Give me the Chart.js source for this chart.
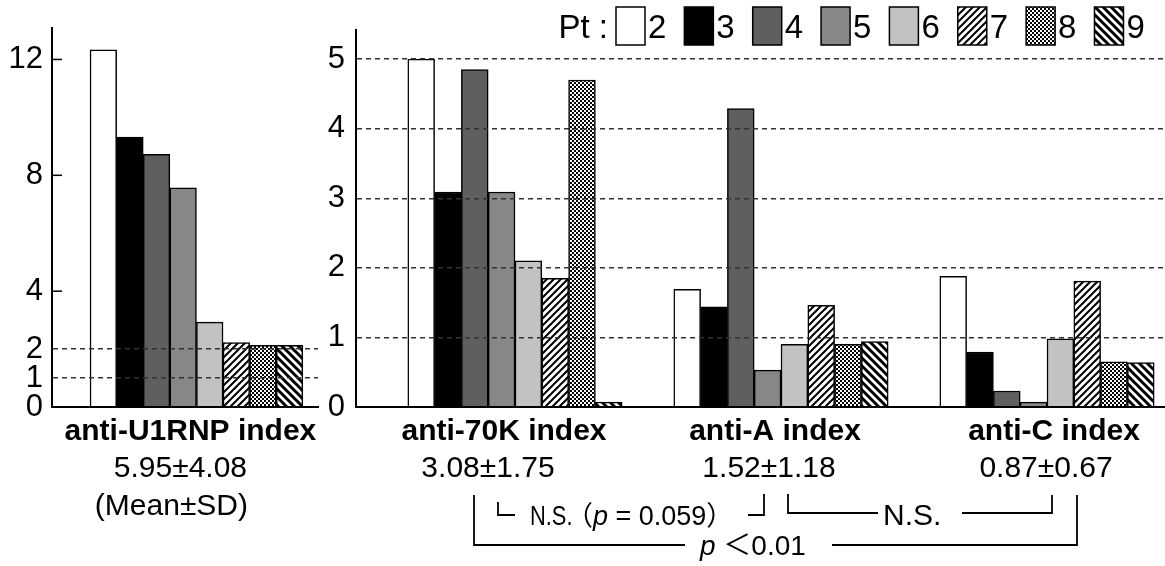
<!DOCTYPE html>
<html>
<head>
<meta charset="utf-8">
<script src="https://cdn.jsdelivr.net/npm/chart.js@4.4.1/dist/chart.umd.min.js"></script>
<style>
  body { margin: 0; background: #fff; }
  #wrap { position: relative; width: 1165px; height: 566px; }
  #wrap canvas { position: absolute; left: 0; top: 0; }
</style>
</head>
<body>
<div id="wrap">
  <canvas id="leftChart" width="1165" height="566"></canvas>
  <canvas id="rightChart" width="1165" height="566"></canvas>
</div>
<script>
// patients and their indices
const patients = ['2', '3', '4', '5', '6', '7', '8', '9'];
const u1rnpIndex = [12.33, 9.32, 8.72, 7.57, 2.93, 2.22, 2.13, 2.13];
const u1rnpTicks = [0, 1, 2, 4, 8, 12];
const u1rnpGridAt = [1, 2];
const u1rnpLabel = 'anti-U1RNP index';
const u1rnpMean = '5.95±4.08';

const antigens = ['anti-70K index', 'anti-A index', 'anti-C index'];
const antigenMeans = ['3.08±1.75', '1.52±1.18', '0.87±0.67'];
const anti70K = [5.00, 3.09, 4.85, 3.09, 2.10, 1.85, 4.70, 0.07];
const antiA = [1.69, 1.44, 4.29, 0.53, 0.90, 1.46, 0.90, 0.94];
const antiC = [1.88, 0.79, 0.23, 0.07, 0.98, 1.81, 0.65, 0.64];

const FONT = "'Liberation Sans', Arial, 'Noto Sans CJK JP', sans-serif";

// fill patterns for patients 7, 8, 9
function hatch(dir, size, lw) {
  const c = document.createElement('canvas');
  c.width = c.height = size;
  const g = c.getContext('2d');
  g.fillStyle = '#fff';
  g.fillRect(0, 0, size, size);
  g.strokeStyle = '#000';
  g.lineWidth = lw;
  g.beginPath();
  if (dir > 0) {
    g.moveTo(-2, 2); g.lineTo(2, -2);
    g.moveTo(0, size); g.lineTo(size, 0);
    g.moveTo(size - 2, size + 2); g.lineTo(size + 2, size - 2);
  } else {
    g.moveTo(-2, size - 2); g.lineTo(2, size + 2);
    g.moveTo(0, 0); g.lineTo(size, size);
    g.moveTo(size - 2, -2); g.lineTo(size + 2, 2);
  }
  g.stroke();
  return g.createPattern(c, 'repeat');
}
function checker(cell) {
  const c = document.createElement('canvas');
  c.width = c.height = cell * 2;
  const g = c.getContext('2d');
  g.fillStyle = '#fff';
  g.fillRect(0, 0, cell * 2, cell * 2);
  g.fillStyle = '#000';
  g.fillRect(0, 0, cell, cell);
  g.fillRect(cell, cell, cell, cell);
  return g.createPattern(c, 'repeat');
}
const fills = ['#ffffff', '#000000', '#5f5f5f', '#878787', '#c2c2c2', hatch(1, 7, 2), checker(2), hatch(-1, 8, 3)];

function poly(ctx, pts) {
  ctx.beginPath();
  pts.forEach((p, i) => i ? ctx.lineTo(p[0], p[1]) : ctx.moveTo(p[0], p[1]));
  ctx.stroke();
}

// Left panel: anti-U1RNP
new Chart(document.getElementById('leftChart'), {
  type: 'bar',
  data: {
    datasets: patients.map((p, i) => ({
      label: p,
      data: [{ x: 1, y: u1rnpIndex[i] }],
      backgroundColor: fills[i],
      borderColor: '#000',
      borderWidth: 1.5,
      barThickness: 26.6
    }))
  },
  options: {
    responsive: false,
    animation: false,
    layout: { padding: { top: 25, right: 847, bottom: 0, left: 0 } },
    plugins: { legend: { display: false }, tooltip: { enabled: false } },
    scales: {
      x: {
        type: 'linear', min: 0.457, max: 1.457, offset: false,
        grid: { display: false },
        ticks: { display: false },
        border: { color: '#000', width: 2, z: 2 },
        afterFit: s => { s.height = 159; }
      },
      y: {
        min: 0, max: 13.1,
        afterBuildTicks: s => { s.ticks = u1rnpTicks.map(v => ({ value: v })); },
        afterFit: s => { s.width = 52; },
        ticks: { color: '#000', padding: 9, font: { family: FONT, size: 31 } },
        grid: {
          z: 1, drawTicks: false, lineWidth: 1.5,
          color: c => (c.tick && u1rnpGridAt.includes(c.tick.value)) ? '#333' : 'transparent'
        },
        border: { color: '#000', width: 2, dash: [5, 4], z: 2 }
      }
    }
  },
  plugins: [{
    id: 'leftText',
    afterDraw(chart) {
      const ctx = chart.ctx, x = chart.scales.x, y = chart.scales.y;
      ctx.save();
      ctx.strokeStyle = '#000';
      ctx.lineWidth = 1.5;
      [4, 8, 12].forEach(v => {
        const py = y.getPixelForValue(v);
        poly(ctx, [[x.left, py], [x.left + 10, py]]);
      });
      const cx = x.getPixelForValue(1);
      ctx.fillStyle = '#000';
      ctx.textAlign = 'center';
      ctx.font = 'bold 30px ' + FONT;
      ctx.fillText(u1rnpLabel, cx - 6, 440);
      ctx.font = '30px ' + FONT;
      ctx.fillText(u1rnpMean, cx - 16, 477);
      ctx.fillText('(Mean±SD)', cx - 25, 515);
      ctx.restore();
    }
  }]
});

// Right panel: anti-70K / anti-A / anti-C
new Chart(document.getElementById('rightChart'), {
  type: 'bar',
  data: {
    datasets: patients.map((p, i) => ({
      label: p,
      data: [anti70K[i], antiA[i], antiC[i]].map((v, j) => ({ x: j + 1, y: v })),
      backgroundColor: fills[i],
      borderColor: '#000',
      borderWidth: 1.5,
      barThickness: 26.8
    }))
  },
  options: {
    responsive: false,
    animation: false,
    layout: { padding: { top: 18, right: 0, bottom: 0, left: 0 } },
    plugins: { legend: { display: false }, tooltip: { enabled: false } },
    scales: {
      x: {
        type: 'linear', min: 0.4023, max: 3.4436, offset: false,
        grid: { display: false },
        ticks: { display: false },
        border: { color: '#000', width: 2, z: 2 },
        afterFit: s => { s.height = 159; }
      },
      y: {
        min: 0, max: 5.425,
        afterFit: s => { s.width = 356; },
        ticks: { stepSize: 1, includeBounds: false, color: '#000', padding: 11, font: { family: FONT, size: 31 } },
        grid: {
          z: 1, drawTicks: false, lineWidth: 1.5,
          color: c => (c.tick && c.tick.value > 0) ? '#333' : 'transparent'
        },
        border: { color: '#000', width: 2, dash: [5, 4], z: 2 }
      }
    }
  },
  plugins: [{
    id: 'rightText',
    afterDraw(chart) {
      const ctx = chart.ctx, x = chart.scales.x;
      ctx.save();
      ctx.fillStyle = '#000';

      // legend
      ctx.font = '33px ' + FONT;
      ctx.textAlign = 'right';
      ctx.fillText('Pt :', 608, 38);
      ctx.textAlign = 'left';
      let lx = 616;
      chart.data.datasets.forEach(ds => {
        ctx.fillStyle = ds.backgroundColor;
        ctx.fillRect(lx, 7, 29, 38);
        ctx.strokeStyle = '#000';
        ctx.lineWidth = 1.5;
        ctx.strokeRect(lx, 7, 29, 38);
        ctx.fillStyle = '#000';
        ctx.fillText(ds.label, lx + 32, 38);
        lx += 29 + 3 + ctx.measureText(ds.label).width + 18;
      });

      // category names and means
      const nameShift = [-11, -6, 7];
      const meanShift = [-27, -12, -1];
      ctx.textAlign = 'center';
      antigens.forEach((name, i) => {
        const cx = x.getPixelForValue(i + 1);
        ctx.font = 'bold 30px ' + FONT;
        ctx.fillText(name, cx + nameShift[i], 440);
        ctx.font = '30px ' + FONT;
        ctx.fillText(antigenMeans[i], cx + meanShift[i], 477);
      });

      // significance brackets
      ctx.strokeStyle = '#000';
      ctx.lineWidth = 1.8;
      poly(ctx, [[498, 502], [498, 515], [515, 515]]);
      poly(ctx, [[748, 515], [764, 515], [764, 494]]);
      poly(ctx, [[788, 494], [788, 513], [878, 513]]);
      poly(ctx, [[962, 513], [1052, 513], [1052, 495]]);
      poly(ctx, [[685, 545], [474, 545], [474, 495]]);
      poly(ctx, [[832, 545], [1077, 545], [1077, 495]]);

      ctx.textAlign = 'left';
      ctx.save();
      ctx.translate(530, 525);
      ctx.scale(0.78, 1);
      ctx.font = '28px ' + FONT;
      ctx.fillText('N.S.', 0, 0);
      ctx.restore();
      let tx = 566;
      const parts = [['（', '27px '], ['p', 'italic 27px '], [' = 0.059', '27px '], ['）', '27px ']];
      parts.forEach(([t, f]) => {
        ctx.font = f + FONT;
        ctx.fillText(t, tx, 525);
        tx += ctx.measureText(t).width;
      });
      ctx.font = '30px ' + FONT;
      ctx.fillText('N.S.', 883, 525);
      ctx.font = 'italic 28px ' + FONT;
      ctx.fillText('p', 700, 555);
      tx = 700 + ctx.measureText('p').width;
      ctx.font = '28px ' + FONT;
      ctx.fillText(' ＜0.01', tx, 555);
      ctx.restore();
    }
  }]
});
</script>
</body>
</html>
